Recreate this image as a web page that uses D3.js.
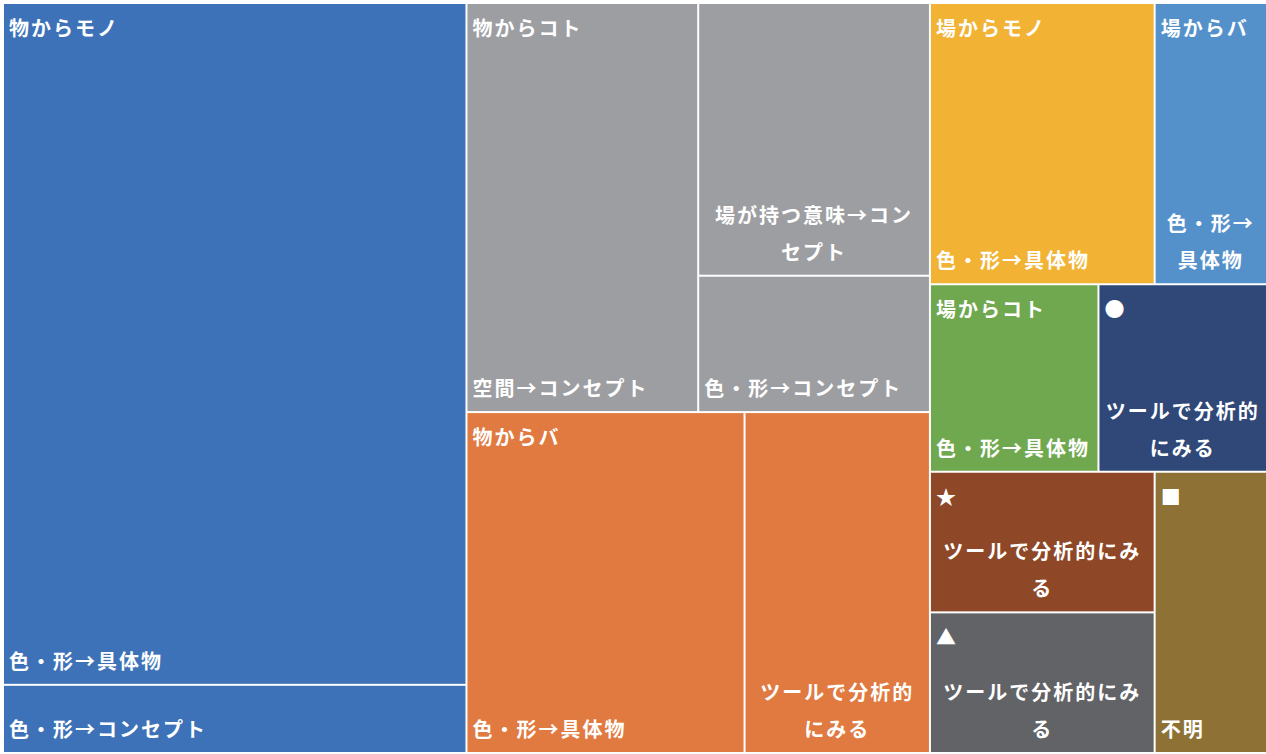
<!DOCTYPE html>
<html>
<head>
<meta charset="utf-8">
<script src="https://cdn.jsdelivr.net/npm/d3@7"></script>
<style>
body { margin: 0; background: #fff; }
svg text { font-family: "Noto Sans CJK JP", sans-serif; font-weight: bold; fill: #fff; }
</style>
</head>
<body>
<svg width="1266" height="754"></svg>
<script>
// groups (top level) and their colours
var groupNames = ['物からモノ', '物からコト', '物からバ', '場からモノ', '場からバ', '場からコト', '●', '★', '▲', '■'];
var groupColors = ['#3d72b8', '#9d9ea2', '#e07a40', '#f2b233', '#5491ca', '#6fa84f', '#2f4878', '#8e4828', '#626366', '#8e7134'];

// leaves
var leafGroups = ['物からモノ', '物からモノ', '物からコト', '物からコト', '物からコト', '物からバ', '物からバ',
    '場からモノ', '場からバ', '場からコト', '●', '★', '▲', '■'];
var leafLabels = ['色・形→具体物', '色・形→コンセプト', '空間→コンセプト', '場が持つ意味→コンセプト', '色・形→コンセプト',
    '色・形→具体物', 'ツールで分析的にみる', '色・形→具体物', '色・形→具体物', '色・形→具体物',
    'ツールで分析的にみる', 'ツールで分析的にみる', 'ツールで分析的にみる', '不明'];
var leafValues = [10, 1, 3, 2, 1, 3, 2, 2, 1, 1, 1, 1, 1, 1];

var svg = d3.select('svg')
    .append('g')
    .attr('transform', 'translate(4,4)');

var color = d3.scaleOrdinal().domain(groupNames).range(groupColors);

var treeData = {
    name: 'root',
    children: groupNames.map(function (g) {
        var kids = [];
        leafLabels.forEach(function (l, i) {
            if (leafGroups[i] === g) kids.push({name: l, value: leafValues[i]});
        });
        return {name: g, children: kids};
    })
};

var root = d3.hierarchy(treeData)
    .sum(function (d) { return d.value; })
    .sort(function (a, b) { return b.value - a.value; });

// squarify, a bit wider rows at the top level than inside the groups
function tile(node, x0, y0, x1, y1) {
    var t = d3.treemapSquarify.ratio(node.depth === 0 ? 1.25 : 1);
    t(node, x0, y0, x1, y1);
}

d3.treemap()
    .tile(tile)
    .size([1262, 748])
    .paddingInner(2)(root);

var leaves = svg.selectAll('g.leaf')
    .data(root.leaves())
    .enter()
    .append('g')
    .attr('class', 'leaf');

leaves.append('rect')
    .attr('x', function (d) { return d.x0; })
    .attr('y', function (d) { return d.y0; })
    .attr('width', function (d) { return d.x1 - d.x0; })
    .attr('height', function (d) { return d.y1 - d.y0; })
    .attr('fill', function (d) { return color(d.parent.data.name); });

var fontSize = 20, spacing = 2, lineH = 37;

// leaf labels: one line bottom-left, else wrapped and centred
leaves.each(function (d) {
    var g = d3.select(this);
    var maxW = d.x1 - d.x0 - 11;
    var t = g.append('text')
        .attr('font-size', fontSize)
        .attr('letter-spacing', spacing)
        .text(d.data.name);
    if (t.node().getComputedTextLength() <= maxW) {
        t.attr('x', d.x0 + 5).attr('y', d.y1 - 15);
        return;
    }
    var chars = Array.from(d.data.name), lines = [], cur = '';
    chars.forEach(function (c) {
        t.text(cur + c);
        if (cur && t.node().getComputedTextLength() > maxW) {
            lines.push(cur);
            cur = c;
        } else {
            cur += c;
        }
    });
    lines.push(cur);
    t.text(null)
        .attr('text-anchor', 'middle');
    lines.forEach(function (l, i) {
        t.append('tspan')
            .attr('x', (d.x0 + d.x1) / 2)
            .attr('y', d.y1 - 15 - (lines.length - 1 - i) * lineH)
            .text(l);
    });
});

// group labels top-left
svg.selectAll('text.group')
    .data(root.children)
    .enter()
    .append('text')
    .attr('class', 'group')
    .attr('font-size', fontSize)
    .attr('letter-spacing', spacing)
    .attr('x', function (d) { return d.x0 + 5; })
    .attr('y', function (d) { return d.y0 + 32; })
    .text(function (d) { return d.data.name; });
</script>
</body>
</html>
